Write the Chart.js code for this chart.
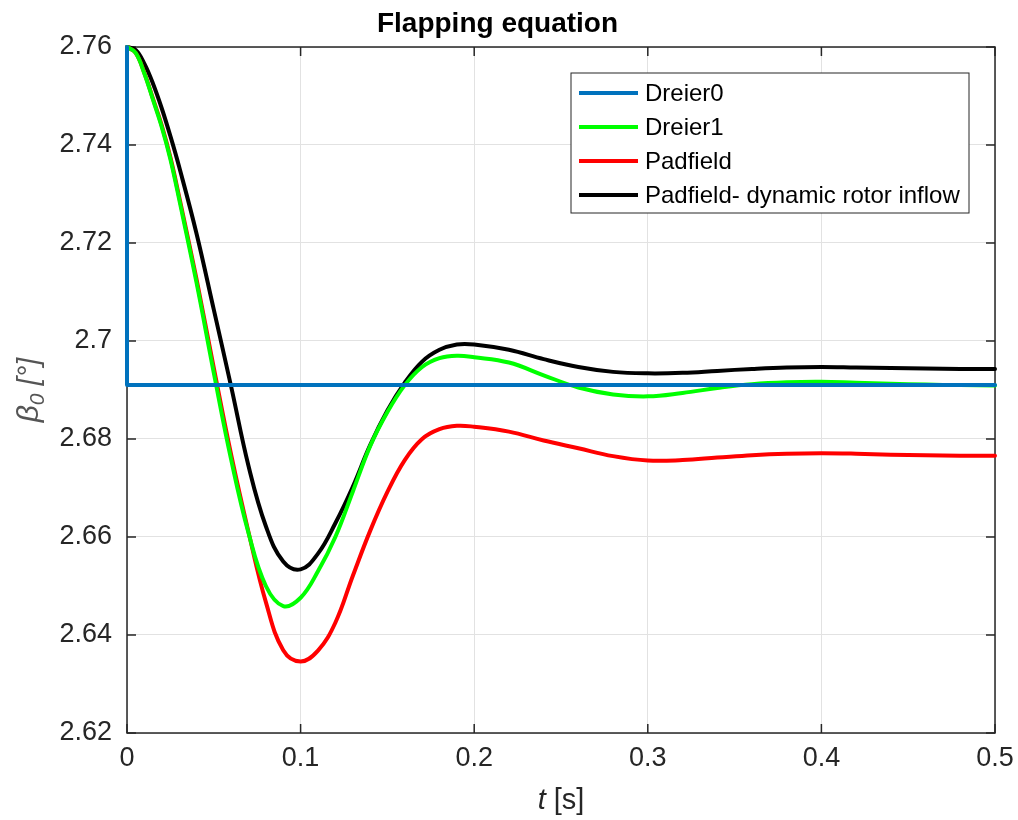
<!DOCTYPE html>
<html>
<head>
<meta charset="utf-8">
<script src="https://cdn.jsdelivr.net/npm/chart.js@4.4.1/dist/chart.umd.min.js"></script>
<style>
  html, body { margin: 0; padding: 0; background: #fff; }
  #wrap { width: 1018px; height: 820px; position: relative; }
</style>
</head>
<body>
<div id="wrap"><canvas id="chart"></canvas></div>
<script>
// time grid shared by the three dynamic responses [s]
const timeS = [0, 0.005, 0.01, 0.015, 0.02, 0.025, 0.03,
  0.04, 0.05, 0.06, 0.07, 0.08, 0.09, 0.10, 0.11, 0.12, 0.13, 0.14, 0.15, 0.16, 0.17, 0.18, 0.19, 0.20,
  0.22, 0.24, 0.26, 0.28, 0.30, 0.32, 0.34, 0.36, 0.38, 0.40, 0.42, 0.44, 0.46, 0.48, 0.50];

// beta_0 [deg]
const dreier1 = [2.7600, 2.7588, 2.7546, 2.7492, 2.7437, 2.7371, 2.7290,
  2.7120, 2.6935, 2.6758, 2.6608, 2.6500, 2.6459, 2.6476, 2.6530, 2.6600, 2.6692, 2.6785, 2.6855, 2.6910, 2.6947, 2.6965, 2.6970, 2.6967,
  2.6956, 2.6930, 2.6905, 2.6891, 2.6887, 2.6894, 2.6904, 2.6912, 2.6916, 2.6917, 2.6915, 2.6913, 2.6911, 2.6910, 2.6909];
const padfield = [2.7600, 2.7588, 2.7547, 2.7494, 2.7440, 2.7375, 2.7295,
  2.7127, 2.6945, 2.6768, 2.6610, 2.6467, 2.6369, 2.6346, 2.6368, 2.6425, 2.6520, 2.6612, 2.6692, 2.6757, 2.6800, 2.6820, 2.6827, 2.6825,
  2.6815, 2.6797, 2.6781, 2.6765, 2.6756, 2.6757, 2.6762, 2.6767, 2.6770, 2.6771, 2.6770, 2.6768, 2.6767, 2.6766, 2.6766];
const padfieldDyn = [2.7600, 2.7594, 2.7566, 2.7525, 2.7475, 2.7418, 2.7356,
  2.7220, 2.7064, 2.6907, 2.6745, 2.6622, 2.6550, 2.6534, 2.6566, 2.6628, 2.6702, 2.6787, 2.6858, 2.6915, 2.6958, 2.6982, 2.6993, 2.6993,
  2.6982, 2.6963, 2.6947, 2.6937, 2.6934, 2.6935, 2.6939, 2.6943, 2.6946, 2.6947, 2.6946, 2.6945, 2.6944, 2.6943, 2.6943];

// Dreier0 is a quasi-static step
const dreier0T = [0, 0, 0.5];
const dreier0 = [2.7600, 2.6910, 2.6910];

const seriesNames = ['Dreier0', 'Dreier1', 'Padfield', 'Padfield- dynamic rotor inflow'];
const xTickValues = [0, 0.1, 0.2, 0.3, 0.4, 0.5];
const xTickLabels = ['0', '0.1', '0.2', '0.3', '0.4', '0.5'];
const yTickValues = [2.62, 2.64, 2.66, 2.68, 2.70, 2.72, 2.74, 2.76];
const yTickLabels = ['2.62', '2.64', '2.66', '2.68', '2.7', '2.72', '2.74', '2.76'];

const FONT = "'Liberation Sans', Arial, Helvetica, sans-serif";
const axisColor = '#262626';

const toPoints = (ts, vs) => ts.map((t, i) => ({ x: t, y: vs[i] }));

// box, inward ticks, legend and axis labels drawn like MATLAB
const matlabAxes = {
    id: 'matlabAxes',
    beforeDatasetsDraw(chart) {
        const { ctx, chartArea: { left, right, top, bottom }, scales: { x, y } } = chart;
        ctx.save();
        ctx.strokeStyle = axisColor;
        ctx.lineWidth = 1.5;
        ctx.strokeRect(left, top, right - left, bottom - top);
        ctx.beginPath();
        const tl = 9;
        xTickValues.forEach(v => {
            const px = x.getPixelForValue(v);
            ctx.moveTo(px, bottom); ctx.lineTo(px, bottom - tl);
            ctx.moveTo(px, top); ctx.lineTo(px, top + tl);
        });
        yTickValues.forEach(v => {
            const py = y.getPixelForValue(v);
            ctx.moveTo(left, py); ctx.lineTo(left + tl, py);
            ctx.moveTo(right, py); ctx.lineTo(right - tl, py);
        });
        ctx.stroke();
        ctx.restore();
    },
    afterDraw(chart) {
        const { ctx, chartArea: { left, right, top, bottom } } = chart;
        ctx.save();

        // legend
        const lx = 571, ly = 73, lw = 398, lh = 140;
        ctx.fillStyle = '#fff';
        ctx.fillRect(lx, ly, lw, lh);
        ctx.strokeStyle = axisColor;
        ctx.lineWidth = 1;
        ctx.strokeRect(lx, ly, lw, lh);
        ctx.font = `24px ${FONT}`;
        ctx.textBaseline = 'middle';
        ctx.textAlign = 'left';
        chart.data.datasets.forEach((ds, i) => {
            const cy = 93 + i * 34;
            ctx.strokeStyle = ds.borderColor;
            ctx.lineWidth = 4;
            ctx.beginPath();
            ctx.moveTo(579, cy); ctx.lineTo(638, cy);
            ctx.stroke();
            ctx.fillStyle = '#000';
            ctx.fillText(ds.label, 645, cy + 1);
        });

        // x label: t [s]
        const cx = (left + right) / 2;
        ctx.fillStyle = axisColor;
        ctx.font = `italic 29px ${FONT}`;
        const w1 = ctx.measureText('t').width;
        ctx.font = `29px ${FONT}`;
        const w2 = ctx.measureText(' [s]').width;
        let sx = cx - (w1 + w2) / 2;
        ctx.font = `italic 29px ${FONT}`;
        ctx.fillText('t', sx, 801);
        ctx.font = `29px ${FONT}`;
        ctx.fillText(' [s]', sx + w1, 801);

        // y label: beta_0 [deg]
        ctx.translate(30, (top + bottom) / 2);
        ctx.rotate(-Math.PI / 2);
        ctx.fillStyle = '#555';
        ctx.font = `italic 30px ${FONT}`;
        const b1 = ctx.measureText('β').width;
        ctx.font = `italic 21px ${FONT}`;
        const b2 = ctx.measureText('0').width;
        ctx.font = `italic 29px ${FONT}`;
        const b3 = ctx.measureText(' [°]').width;
        sx = -(b1 + b2 + b3) / 2;
        ctx.font = `italic 30px ${FONT}`;
        ctx.fillText('β', sx, 0);
        ctx.font = `italic 21px ${FONT}`;
        ctx.fillText('0', sx + b1, 8);
        ctx.font = `italic 29px ${FONT}`;
        ctx.fillText(' [°]', sx + b1 + b2, 0);
        ctx.restore();
    }
};

const ctx = document.getElementById('chart').getContext('2d');
new Chart(ctx, {
    type: 'line',
    data: {
        datasets: [
            { label: seriesNames[0], data: toPoints(dreier0T, dreier0), borderColor: '#0072BD', tension: 0 },
            { label: seriesNames[1], data: toPoints(timeS, dreier1), borderColor: '#00FF00', tension: 0.4 },
            { label: seriesNames[2], data: toPoints(timeS, padfield), borderColor: '#FF0000', tension: 0.4 },
            { label: seriesNames[3], data: toPoints(timeS, padfieldDyn), borderColor: '#000000', tension: 0.4 },
        ],
    },
    options: {
        responsive: true,
        maintainAspectRatio: false,
        animation: false,
        layout: { padding: { left: 0, right: 23, top: 0, bottom: 0 } },
        elements: {
            point: { radius: 0 },
            line: { borderWidth: 4, fill: false, borderCapStyle: 'round', borderJoinStyle: 'round' },
        },
        datasets: { line: { clip: 6 } },
        plugins: {
            legend: { display: false },
            tooltip: { enabled: false },
            title: {
                display: true,
                text: 'Flapping equation',
                color: '#000',
                font: { family: FONT, size: 28, weight: 'bold' },
                padding: { top: 7, bottom: 6.4 },
            },
        },
        scales: {
            x: {
                type: 'linear',
                min: 0,
                max: 0.5,
                afterBuildTicks: axis => { axis.ticks = xTickValues.map(v => ({ value: v })); },
                afterFit: s => { s.height = 87; s.paddingLeft = 0; s.paddingRight = 0; },
                ticks: {
                    callback: (v, i) => xTickLabels[i],
                    color: axisColor,
                    font: { family: FONT, size: 27 },
                    padding: 9,
                    maxRotation: 0,
                },
                grid: { color: '#e2e2e2', lineWidth: 1, drawTicks: false },
                border: { display: false },
            },
            y: {
                type: 'linear',
                min: 2.62,
                max: 2.76,
                afterBuildTicks: axis => { axis.ticks = yTickValues.map(v => ({ value: v })); },
                afterFit: s => { s.width = 127; s.paddingTop = 0; s.paddingBottom = 0; },
                ticks: {
                    callback: (v, i) => yTickLabels[i],
                    color: axisColor,
                    font: { family: FONT, size: 27 },
                    padding: 15,
                },
                grid: { color: '#e2e2e2', lineWidth: 1, drawTicks: false },
                border: { display: false },
            },
        },
    },
    plugins: [matlabAxes],
});
</script>
</body>
</html>
